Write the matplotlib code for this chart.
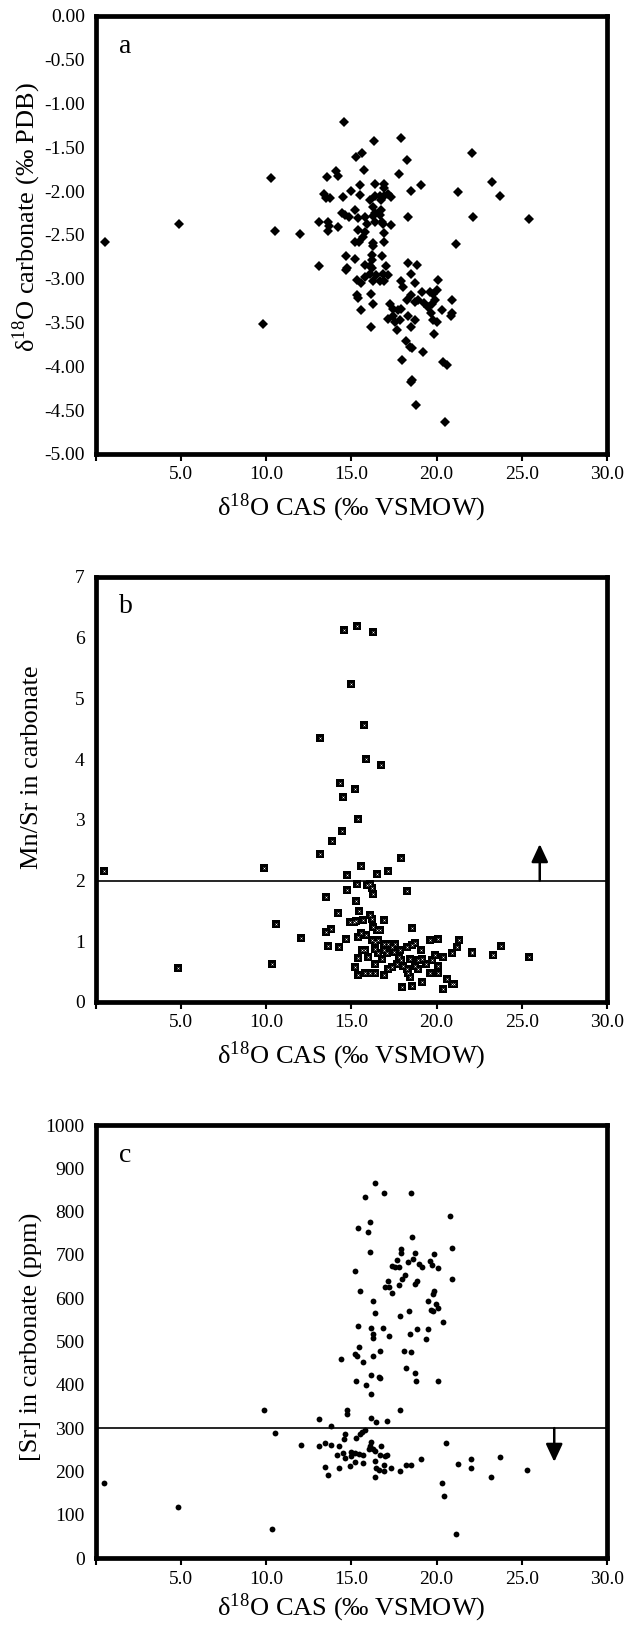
import matplotlib
matplotlib.use("Agg")
import matplotlib.pyplot as plt

# values (x = d18O CAS, permil VSMOW)

# panel a: d18O carbonate (permil PDB)
a_x = [0.52, 4.86, 25.4,
       14.55, 16.30, 17.89, 15.28, 15.61, 15.73, 18.23, 17.78, 10.30, 13.58, 14.11, 14.23,
       22.07, 23.25, 23.70, 21.28, 19.07, 18.52, 22.11, 18.33, 21.16, 10.49, 11.97, 9.80,
       13.09, 13.09, 13.41, 13.51, 13.76, 13.64, 13.70, 13.64, 14.19, 14.49, 14.96, 15.51,
       15.51, 16.40, 16.91, 16.36, 16.65, 16.91, 17.15, 17.34, 16.75, 16.26, 16.75, 16.65,
       14.43, 14.63, 14.84, 15.22, 15.37, 15.77, 16.26, 16.36, 15.91, 15.37, 16.81, 16.87,
       17.34, 15.77, 15.67, 15.22, 15.47, 16.26, 16.24, 16.91, 16.91, 16.20, 16.20, 14.69,
       15.22, 16.81, 14.75, 14.67, 15.77, 16.06, 16.22, 17.03, 17.15, 15.33, 15.53, 15.77,
       16.06, 16.26, 16.46, 16.65, 16.91, 16.85, 15.31, 15.41, 15.53, 16.16, 16.28, 16.16,
       17.89, 18.03, 18.33, 18.82, 18.52, 18.72, 19.11, 18.23, 18.52, 18.72, 18.92, 17.24,
       17.44, 17.74, 17.93, 17.44, 17.15, 17.54, 17.83, 17.70, 18.33, 18.52, 18.72, 18.19,
       18.46, 18.56, 17.98, 19.17, 19.61, 19.80, 20.10, 20.00, 19.27, 19.50, 19.70, 19.90,
       19.66, 19.80, 20.00, 19.82, 20.33, 20.88, 20.84, 20.92, 20.39, 20.59, 18.50, 18.58,
       18.78, 20.47, 16.36, 16.06, 16.91]
a_y = [-2.58, -2.38, -2.32,
       -1.21, -1.43, -1.39, -1.61, -1.56, -1.76, -1.65, -1.80, -1.85, -1.84, -1.77, -1.83,
       -1.57, -1.90, -2.05, -2.01, -1.93, -2.00, -2.29, -2.30, -2.60, -2.46, -2.49, -3.52,
       -2.85, -2.35, -2.03, -2.08, -2.08, -2.35, -2.40, -2.46, -2.41, -2.07, -2.00, -1.93,
       -2.04, -1.92, -1.92, -2.06, -2.06, -2.06, -2.03, -2.07, -2.10, -2.18, -2.22, -2.27,
       -2.25, -2.27, -2.29, -2.22, -2.31, -2.29, -2.28, -2.25, -2.37, -2.44, -2.35, -2.38,
       -2.39, -2.47, -2.52, -2.58, -2.58, -2.59, -2.63, -2.58, -2.48, -2.73, -2.79, -2.74,
       -2.78, -2.74, -2.88, -2.90, -2.84, -2.86, -2.88, -2.85, -2.96, -3.01, -3.05, -2.98,
       -2.94, -3.03, -2.96, -3.03, -3.03, -2.94, -3.18, -3.22, -3.36, -3.17, -3.29, -3.55,
       -3.03, -3.09, -2.82, -2.84, -2.95, -3.05, -3.15, -3.24, -3.19, -3.26, -3.24, -3.29,
       -3.34, -3.36, -3.34, -3.43, -3.46, -3.49, -3.47, -3.58, -3.43, -3.55, -3.47, -3.71,
       -3.78, -3.79, -3.93, -3.84, -3.15, -3.17, -3.01, -3.13, -3.28, -3.32, -3.29, -3.24,
       -3.39, -3.47, -3.49, -3.63, -3.36, -3.24, -3.43, -3.39, -3.95, -3.98, -4.18, -4.16,
       -4.44, -4.64, -2.35, -2.10, -1.96]

# panel b: Mn/Sr in carbonate
b_x = [0.45, 4.80, 23.79, 25.43, 23.32, 22.06,
       14.59, 15.31, 16.25, 14.98, 15.76, 13.13, 15.84, 16.76, 14.30, 14.51, 15.21, 15.37,
       14.43, 13.83, 13.13, 9.84, 17.91, 15.57, 14.75, 16.52, 17.17, 15.33, 15.90, 16.09,
       16.19, 16.27, 14.75, 18.26, 13.50, 15.25, 15.47, 14.18, 10.55, 14.92, 15.12, 15.27,
       15.70, 16.09, 16.23, 16.93, 16.29, 16.48, 16.68, 18.55, 12.03, 13.48, 13.81, 13.61,
       14.26, 14.67, 15.41, 15.55, 15.84, 16.19, 16.39, 16.58, 16.88, 17.17, 17.36, 15.61,
       15.80, 16.39, 16.88, 17.07, 17.52, 17.85, 18.24, 18.54, 18.73, 19.08, 19.63, 20.10,
       21.31, 21.17, 20.92, 22.09, 23.28, 10.33, 15.37, 15.21, 15.41, 15.80, 16.09, 16.39,
       16.93, 16.39, 16.78, 17.17, 17.40, 17.66, 17.91, 18.05, 18.24, 17.95, 18.57, 18.44,
       18.73, 18.92, 19.16, 19.61, 19.71, 19.90, 20.06, 20.10, 20.39, 19.36, 20.59, 20.35,
       20.88, 21.00, 17.56, 15.99, 16.58, 17.77, 18.46, 18.92, 18.34, 19.12]
b_y = [2.16, 0.56, 0.92, 0.74, 0.78, 0.81,
       6.13, 6.19, 6.09, 5.23, 4.56, 4.35, 4.00, 3.90, 3.61, 3.38, 3.51, 3.01,
       2.82, 2.65, 2.44, 2.20, 2.37, 2.24, 2.09, 2.10, 2.15, 1.94, 1.92, 1.95,
       1.87, 1.78, 1.85, 1.83, 1.73, 1.67, 1.50, 1.47, 1.29, 1.31, 1.32, 1.33,
       1.35, 1.44, 1.36, 1.35, 1.24, 1.18, 1.18, 1.22, 1.05, 1.15, 1.20, 0.92,
       0.91, 1.03, 1.07, 1.13, 1.10, 1.02, 0.99, 1.02, 0.96, 0.96, 0.91, 0.86,
       0.85, 0.88, 0.85, 0.80, 0.82, 0.85, 0.91, 0.93, 0.97, 0.85, 1.02, 1.04,
       1.02, 0.90, 0.80, 0.82, 0.77, 0.62, 0.72, 0.57, 0.44, 0.47, 0.48, 0.47,
       0.44, 0.63, 0.71, 0.55, 0.58, 0.63, 0.69, 0.60, 0.55, 0.25, 0.26, 0.41,
       0.60, 0.55, 0.33, 0.47, 0.69, 0.77, 0.60, 0.47, 0.74, 0.63, 0.37, 0.22,
       0.29, 0.29, 0.96, 0.74, 0.80, 0.74, 0.71, 0.69, 0.47, 0.71]

# panel c: [Sr] in carbonate (ppm)
c_x = [0.50, 4.84,
       16.36, 15.77, 16.91, 18.52, 20.80, 16.07, 15.38, 15.97, 18.56, 16.11, 20.92, 17.91,
       17.93, 18.72, 19.87, 17.70, 18.33, 18.63, 18.95, 19.15, 19.60, 19.74, 20.07, 17.38,
       17.58, 17.78, 18.13, 17.97, 17.78, 18.70, 18.82, 20.88, 15.19, 17.15, 17.19, 16.99,
       17.35, 15.52, 19.87, 19.79, 19.50, 19.99, 19.64, 19.76, 20.07, 16.25, 16.36, 17.83,
       18.36, 20.39, 15.36, 16.17, 16.83, 16.25, 16.25, 17.19, 18.44, 18.83, 19.50, 19.35,
       15.42, 15.19, 15.32, 14.40, 16.27, 16.70, 15.66, 18.09, 18.52, 18.21, 18.72, 18.78,
       20.05, 15.28, 15.85, 16.15, 16.68, 16.64, 16.15, 9.85, 14.72, 14.72, 17.87, 13.11,
       16.17, 16.46, 17.11, 13.79, 10.50, 14.64, 14.54, 15.28, 15.52, 15.62, 15.81, 12.01,
       13.07, 13.46, 13.79, 14.24, 14.17, 14.48, 14.95, 14.95, 15.23, 15.42, 15.68, 16.17,
       16.11, 16.25, 16.40, 16.76, 16.68, 16.95, 17.11, 20.52, 13.46, 13.62, 14.28, 14.91,
       15.23, 15.68, 16.40, 16.44, 16.60, 16.89, 17.34, 16.40, 17.87, 18.21, 18.52, 19.07,
       21.25, 22.01, 22.03, 23.70, 23.19, 25.33, 20.31, 20.42, 21.15, 10.36, 16.01, 14.64,
       16.89]
c_y = [173, 119,
       866, 833, 843, 844, 791, 776, 762, 753, 741, 706, 717, 713,
       704, 704, 703, 689, 683, 690, 680, 673, 685, 677, 670, 675,
       671, 673, 654, 644, 631, 633, 639, 644, 663, 639, 627, 627,
       613, 617, 616, 610, 593, 587, 572, 571, 577, 593, 567, 559,
       571, 546, 537, 531, 531, 517, 508, 512, 517, 529, 529, 507,
       488, 471, 466, 459, 467, 479, 452, 477, 475, 439, 427, 408,
       410, 408, 400, 422, 415, 419, 379, 342, 342, 332, 342, 322,
       324, 315, 316, 304, 288, 287, 275, 277, 286, 292, 296, 260,
       258, 265, 262, 259, 238, 242, 246, 235, 242, 240, 237, 269,
       258, 252, 248, 258, 237, 235, 237, 266, 210, 192, 207, 213,
       221, 220, 223, 209, 204, 200, 208, 188, 202, 215, 215, 229,
       218, 229, 207, 233, 188, 203, 173, 143, 56, 68, 252, 231,
       215]

x_ticks = [0, 5, 10, 15, 20, 25, 30]
x_tick_labels = ["", "5.0", "10.0", "15.0", "20.0", "25.0", "30.0"]
a_ticks = [0, -0.5, -1, -1.5, -2, -2.5, -3, -3.5, -4, -4.5, -5]
a_tick_labels = ["0.00", "-0.50", "-1.00", "-1.50", "-2.00", "-2.50",
                 "-3.00", "-3.50", "-4.00", "-4.50", "-5.00"]
b_ticks = [0, 1, 2, 3, 4, 5, 6, 7]
c_ticks = [0, 100, 200, 300, 400, 500, 600, 700, 800, 900, 1000]

xlabel = "δ$^{\\mathregular{18}}$O CAS (‰ VSMOW)"


def style_axes(ax, letter, ylab, ylab_y, xpad=6):
    for s in ax.spines.values():
        s.set_linewidth(3.4)
        s.set_color("black")
    ax.set_xlim(0, 30)
    ax.set_xticks(x_ticks)
    ax.set_xticklabels(x_tick_labels)
    ax.tick_params(axis="x", direction="out", length=5, width=1.5,
                   labelsize=14, pad=4)
    ax.tick_params(axis="y", direction="out", length=0, labelsize=14, pad=8)
    ax.set_xlabel(xlabel, fontsize=19, labelpad=xpad)
    # y labels all sit at the same distance from the frame
    ax.set_ylabel(ylab, fontsize=19)
    ax.yaxis.set_label_coords(-0.104, ylab_y)
    ax.text(0.045, 0.93, letter, transform=ax.transAxes, fontsize=20,
            ha="left", va="center")


def add_arrow(ax, x, y0, y1):
    ax.annotate("", xy=(x, y1), xytext=(x, y0),
                arrowprops=dict(arrowstyle="-|>,head_width=0.28,head_length=0.6",
                                color="black", lw=1.8, mutation_scale=18,
                                shrinkA=0, shrinkB=0))


def main() -> int:
    plt.rcParams["font.family"] = ["Liberation Serif", "DejaVu Serif"]
    plt.rcParams["mathtext.fontset"] = "stix"

    fig = plt.figure(figsize=(6.35, 16.26), dpi=100)
    ax_a = fig.add_axes([0.151, 0.7208, 0.805, 0.2694])
    ax_b = fig.add_axes([0.151, 0.3838, 0.805, 0.2614])
    ax_c = fig.add_axes([0.151, 0.0418, 0.805, 0.2663])

    # a - diamonds
    ax_a.plot(a_x, a_y, "D", color="black", ms=5.4, mew=0)
    ax_a.set_ylim(-5, 0)
    ax_a.set_yticks(a_ticks)
    ax_a.set_yticklabels(a_tick_labels)
    style_axes(ax_a, "a", "δ$^{\\mathregular{18}}$O carbonate (‰ PDB)", 0.54)

    # b - squares (with a faint cross), threshold line with arrow
    ax_b.plot(b_x, b_y, "s", color="black", ms=5.4, mew=0)
    ax_b.plot(b_x, b_y, "x", color="white", ms=1.6, mew=0.3)
    ax_b.axhline(2, color="black", lw=1.2)
    add_arrow(ax_b, 26.05, 2.0, 2.6)
    ax_b.set_ylim(0, 7)
    ax_b.set_yticks(b_ticks)
    style_axes(ax_b, "b", "Mn/Sr in carbonate", 0.553)

    # c - dots, threshold line with arrow
    ax_c.plot(c_x, c_y, "o", color="black", ms=4.2, mew=0)
    ax_c.axhline(300, color="black", lw=1.2)
    add_arrow(ax_c, 26.9, 300, 222)
    ax_c.set_ylim(0, 1000)
    ax_c.set_yticks(c_ticks)
    style_axes(ax_c, "c", "[Sr] in carbonate (ppm)", 0.51, xpad=3)

    fig.savefig("out.png", dpi=100)
    return 0


if __name__ == '__main__':
    main()
